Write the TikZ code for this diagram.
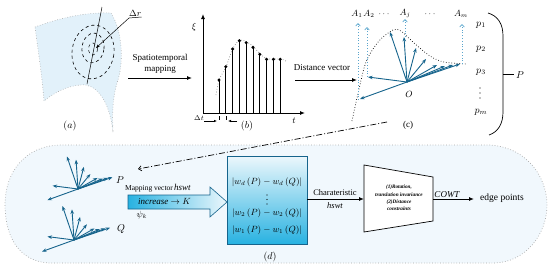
\documentclass[tikz,border=0pt]{standalone}
\usepackage{fontspec}
\setmainfont{Liberation Serif}
\usetikzlibrary{arrows.meta,calc}
\definecolor{teal1}{RGB}{22,100,140}
\definecolor{lblue}{RGB}{90,165,205}
\definecolor{surf}{RGB}{226,241,250}
\definecolor{region}{RGB}{241,248,253}
\definecolor{cyanA}{RGB}{40,178,225}
\definecolor{paleA}{RGB}{236,247,252}
\begin{document}
\begin{tikzpicture}[x=1pt,y=-1pt,
  blk/.style={draw=black,line width=0.9pt,-{Latex[length=5pt,width=4pt]}},
  vec/.style={draw=teal1,line width=0.9pt,-{Stealth[length=4.5pt,width=3.5pt]}},
  avec/.style={draw=lblue,line width=0.8pt,dotted,-{Straight Barb[length=2.5pt,width=4.5pt,line width=0.7pt]}},
  lab/.style={font=\fontsize{9}{10}\selectfont,inner sep=0pt},
  plab/.style={font=\fontsize{10}{11}\selectfont,inner sep=0pt},
  vdot/.style={circle,fill=black,inner sep=0pt,minimum size=1.4pt}]
\useasboundingbox (0,0) rectangle (550,271);

% ---------------- (a) surface
\fill[surf] (35,27) .. controls (60,18) and (85,12) .. (111,13)
  .. controls (122,30) and (124,60) .. (118,80)
  .. controls (113,95) and (112,110) .. (113,132)
  .. controls (110,105) and (100,88) .. (86,85)
  .. controls (70,84) and (55,92) .. (44,101)
  .. controls (42,75) and (38,50) .. (35,27) -- cycle;
\draw[gray!70,dotted,line width=0.6pt] (35,27) .. controls (60,18) and (85,12) .. (111,13)
  .. controls (122,30) and (124,60) .. (118,80)
  .. controls (113,95) and (112,110) .. (113,132);
\draw[gray!70,dotted,line width=0.6pt] (113,132) .. controls (110,105) and (100,88) .. (86,85)
  .. controls (70,84) and (55,92) .. (44,101)
  .. controls (42,75) and (38,50) .. (35,27);
\draw[dashed,line width=0.6pt] (93,52) ellipse [x radius=21,y radius=27,rotate=-8];
\draw[dashed,line width=0.6pt] (93,48) ellipse [x radius=11,y radius=15,rotate=-8];
\draw[dashed,line width=0.5pt] (93,49) ellipse [x radius=4.5,y radius=6];
\coordinate (lineT) at (102,7);
\coordinate (lineB) at (87,84);
\draw[line width=0.5pt] (lineT) -- (lineB);
\node[lab,anchor=south west] (dr) at (129,17) {$\Delta r$};
\coordinate (drA) at (129,18);
\coordinate (drC) at (96,48);
\draw[line width=0.5pt] (dr.south east) -- (drA);
\draw[line width=0.5pt,-{Stealth[length=4pt,width=3pt]}] (drA) -- (drC);
\node[plab] (la) at (70,126) {$(a)$};

% spatiotemporal mapping
\coordinate (sm1) at (128,78);
\coordinate (sm2) at (192,78);
\draw[blk] (sm1) -- (sm2);
\node[lab,align=center] (smt) at (160,64) {Spatiotemporal\\[1pt]mapping};

% ---------------- (b) graph
\coordinate (orig) at (203,113);
\coordinate (yax) at (203,14);
\coordinate (xax) at (305,113);
\draw[line width=1pt,-{Latex[length=5pt,width=4pt]}] (orig) -- (yax);
\draw[line width=1pt,-{Latex[length=5pt,width=4pt]}] (orig) -- (xax);
\node[lab] (xi) at (194,27) {$\xi$};
\node[lab] (tt) at (294,121) {$t$};
\draw[gray,dotted,line width=0.7pt] plot[smooth] coordinates {(216,95) (219,80) (226,66.7) (232.7,49) (239.3,40.2) (246,41.5) (252.7,46) (259.3,53) (266,58.5) (273,59) (281,59) (286,61)};
\foreach \x/\h in {219/80,225.8/66.7,232.6/49,239.4/40.7,246.2/42.7,253/47.3,259.8/54.3,266.6/59.3,273.4/59.3,280.2/59.3}{
  \draw[line width=0.8pt] (\x,113) -- (\x,\h);
  \fill (\x,\h) circle (1.7);
}
\draw[line width=0.5pt] (219,116) -- (219,120);
\draw[line width=0.5pt] (225.8,116) -- (225.8,120);
\node[font=\fontsize{7}{8}\selectfont,inner sep=0pt] (dt) at (199,118) {$\Delta t$};
\coordinate (dtA1) at (204,121);
\coordinate (dtA2) at (217,121);
\coordinate (dtB1) at (237,121);
\coordinate (dtB2) at (228,121);
\draw[line width=0.6pt,-{Latex[length=3pt,width=2.5pt]}] (dtA1) -- (dtA2);
\draw[line width=0.6pt,-{Latex[length=3pt,width=2.5pt]}] (dtB1) -- (dtB2);
\node[plab] (lb) at (247,126) {$(b)$};

% distance vector
\coordinate (dv1) at (295,80);
\coordinate (dv2) at (357,80);
\draw[blk] (dv1) -- (dv2);
\node[lab] (dvt) at (322,68) {Distance vector};

% ---------------- (c) vectors
\coordinate (O) at (407,82);
\node[lab] (Ol) at (409,94) {$O$};
\draw[dotted,line width=0.7pt] plot[smooth] coordinates {(352,121) (357,98) (366,62) (379,41) (393,30) (401,31) (414,43) (430,56) (444,62) (467,64)};
\foreach \dx/\dy in {-47/17,-39/-5,-17/-50,-3/-45,9/-34,19/-23,30/-17,38/-16,46/-17,53/-18}{
  \draw[vec] (O) -- ++(\dx,\dy);
}
\foreach \n/\x/\yb/\yt in {a1/358/100/23,a2/367/77/27,aj/405/37/19,am/462/64/24}{
  \coordinate (\n b) at (\x,\yb);
  \coordinate (\n t) at (\x,\yt);
  \draw[avec] (\n b) -- (\n t);
}
\node[lab] (A1) at (357,14) {$A_1$};
\node[lab] (A2) at (369,14) {$A_2$};
\node[lab] (d1) at (384,14) {$\cdots$};
\node[lab] (Aj) at (405,14) {$A_j$};
\node[lab] (d2) at (430,14) {$\cdots$};
\node[lab] (Am) at (461,14) {$A_m$};
\node[plab] (p1) at (481,25) {$p_1$};
\node[plab] (p2) at (481,49) {$p_2$};
\node[plab] (p3) at (481,72) {$p_3$};
\node[vdot] (pv1) at (480,88) {};
\node[vdot] (pv2) at (480,93) {};
\node[vdot] (pv3) at (480,98) {};
\node[plab] (pm) at (481,112) {$p_m$};
\draw[line width=0.7pt] (488,13) .. controls (498,16) and (503,24) .. (503,36) -- (503,112) .. controls (503,124) and (498,132) .. (489,135);
\coordinate (bm) at (503,74);
\coordinate (bm2) at (514,74);
\draw[line width=0.7pt] (bm) -- (bm2);
\node[plab] (PP) at (520,75) {$P$};
\node[lab] (lc) at (408,125) {(c)};

% ---------------- (d) region
\filldraw[fill=region,draw=gray!70,dotted,line width=0.7pt]
  (60,145) -- (490,145) .. controls (530,148) and (547,180) .. (547,205)
  .. controls (547,235) and (525,262) .. (495,263) -- (50,263)
  .. controls (18,262) and (5,235) .. (5,205)
  .. controls (5,172) and (25,146) .. (60,145) -- cycle;

% dash-dot connector
\coordinate (dd1) at (387,122);
\coordinate (dd2) at (138,169);
\draw[line width=0.7pt,dash pattern=on 6pt off 2pt on 1pt off 2pt,-{Straight Barb[length=3pt,width=5pt]}] (dd1) -- (dd2);

% fans P and Q
\coordinate (OP) at (78,189);
\coordinate (OQ) at (74,240);
\foreach \dx/\dy in {-47/17,-39/-5,-17/-50,-3/-45,9/-34,19/-23,30/-17,38/-16,46/-17,53/-18}{
  \draw[vec] (OP) -- ++(0.65*\dx,0.65*\dy);
  \draw[vec] (OQ) -- ++(0.68*\dx,0.68*\dy);
}
\node[plab] (Pd) at (120,180) {$P$};
\node[plab] (Qd) at (121,229) {$Q$};
\node[inner sep=0pt,anchor=west] (mv) at (125,188) {\fontsize{7.5}{8}\selectfont Mapping vector\,{\fontsize{9}{10}\selectfont\itshape hswt}};

% block arrow
\shade[left color=cyanA,right color=paleA,draw=teal1,line width=0.6pt]
  (128,195) -- (210,195) -- (210,187) -- (227,202) -- (210,217) -- (210,209) -- (128,209) -- cycle;
\node[lab,anchor=west] (inc) at (138,201) {\textit{increase} $\rightarrow K$};
\node[lab] (psi) at (142,215) {$\psi_k$};

% box
\shade[top color=paleA,bottom color=cyanA,draw=teal1,line width=0.8pt] (227,156) rectangle (307,244);
\coordinate (boxR) at (307,199);
\node[lab] (w4) at (267,182) {$\left|w_d\left(P\right)-w_d\left(Q\right)\right|$};
\node[vdot] (wv1) at (267,195) {};
\node[vdot] (wv2) at (267,199.5) {};
\node[vdot] (wv3) at (267,204) {};
\node[lab] (w2) at (267,213) {$\left|w_2\left(P\right)-w_2\left(Q\right)\right|$};
\node[lab] (w1) at (267,230) {$\left|w_1\left(P\right)-w_1\left(Q\right)\right|$};
\node[plab] (ld) at (270,257) {$(d)$};

% characteristic arrow
\coordinate (trL) at (364,199);
\draw[blk] (boxR) -- (trL);
\node[font=\fontsize{8.5}{9}\selectfont,inner sep=0pt] (ch) at (335,193) {Charateristic};
\node[font=\fontsize{8.5}{9}\selectfont\itshape,inner sep=0pt] (chh) at (335,206) {hswt};

% trapezoid
\filldraw[fill=white,draw=black,line width=0.7pt] (364,165) -- (433,177) -- (433,221) -- (364,232) -- cycle;
\node[font=\fontsize{5.2}{7.2}\selectfont\bfseries\itshape,align=center,inner sep=0pt] (trt) at (399,198)
  {(1)Rotation,\\translation invariance\\(2)Distance\\constraints};

% COWT arrow
\coordinate (trR) at (433,199);
\coordinate (ep) at (474,199);
\draw[blk] (trR) -- (ep);
\node[font=\fontsize{9}{10}\selectfont\itshape,inner sep=0pt,anchor=south] (cowt) at (447,197.5) {COWT};
\node[font=\fontsize{9.5}{10}\selectfont,inner sep=0pt,anchor=west] (edge) at (480,198) {edge points};
\end{tikzpicture}
\end{document}
